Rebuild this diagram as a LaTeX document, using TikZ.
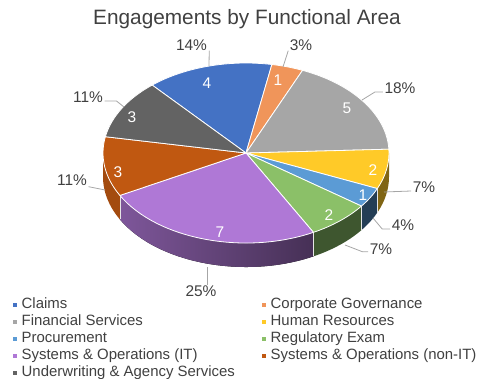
\documentclass[tikz,border=0pt]{standalone}
\usepackage{fontspec}
\setmainfont{Liberation Sans}
\begin{document}
\begin{tikzpicture}[x=0.75pt,y=0.75pt,
    leader/.style={draw=leadgray, line width=0.6pt},
    pctlabel/.style={text=labelgray, font=\fontsize{11.6}{13}\selectfont, inner sep=0pt},
    vallabel/.style={text=white, font=\fontsize{11.6}{13}\selectfont, inner sep=0pt},
    legtext/.style={text=labelgray, font=\fontsize{11.2}{13}\selectfont, anchor=west, inner sep=0pt,
        text height=8pt, text depth=2.3pt},
    legmark/.style={minimum size=2.8pt, inner sep=0pt},
    pie/.style={x radius=143, y radius=90}]
    % Define colors
    \definecolor{claimsblue}{HTML}{4472C4}
    \definecolor{govorange}{HTML}{F0955A}
    \definecolor{fingray}{HTML}{A6A6A6}
    \definecolor{hryellow}{HTML}{FFCA28}
    \definecolor{procblue}{HTML}{5B9BD5}
    \definecolor{reggreen}{HTML}{8BC068}
    \definecolor{itpurple}{HTML}{AF78D6}
    \definecolor{nonitorange}{HTML}{C05811}
    \definecolor{uwgray}{HTML}{636363}
    \definecolor{labelgray}{HTML}{404040}
    \definecolor{leadgray}{HTML}{A6A6A6}

    \useasboundingbox (0,0) rectangle (483,379);

    \begin{scope}[shift={(246,226)}]
    % Side of the pie (only the front half is seen)
    \fill[hryellow!50!black] (0:143 and 90) arc[pie, start angle=0, end angle=-23.286] -- ++(0,-24) arc[pie, start angle=-23.286, end angle=0] -- cycle;
    \fill[procblue!40!black] (-23.286:143 and 90) arc[pie, start angle=-23.286, end angle=-36.143] -- ++(0,-24) arc[pie, start angle=-36.143, end angle=-23.286] -- cycle;
    \fill[reggreen!45!black] (-36.143:143 and 90) arc[pie, start angle=-36.143, end angle=-61.857] -- ++(0,-24) arc[pie, start angle=-61.857, end angle=-36.143] -- cycle;
    \fill[left color=itpurple!72!black, right color=itpurple!40!black] (-61.857:143 and 90) arc[pie, start angle=-61.857, end angle=-151.857] -- ++(0,-24) arc[pie, start angle=-151.857, end angle=-61.857] -- cycle;
    \fill[nonitorange!85!black] (-151.857:143 and 90) arc[pie, start angle=-151.857, end angle=-180] -- ++(0,-24) arc[pie, start angle=-180, end angle=-151.857] -- cycle;
    % Edges between the side parts
    \foreach \a in {-23.286,-36.143,-61.857,-151.857}
        \draw[white!80!gray, line width=0.5pt] (\a:143 and 90) -- ++(0,-24);

    % Top of the pie
    \foreach \a/\b/\col in {131/79.571/claimsblue, 79.571/66.714/govorange,
        66.714/2.429/fingray, 2.429/-23.286/hryellow, -23.286/-36.143/procblue,
        -36.143/-61.857/reggreen, -61.857/-151.857/itpurple,
        -151.857/-190.429/nonitorange, -190.429/-229/uwgray}
        \filldraw[fill=\col, draw=white, line width=0.6pt, line join=round] (0,0) -- (\a:143 and 90)
            arc[pie, start angle=\a, end angle=\b] -- cycle;
    \end{scope}

    % Title
    \node[text=labelgray, font=\fontsize{15.6}{18}\selectfont] (title) at (247,360) {Engagements by Functional Area};

    % Values on the slices
    \node[vallabel] (v-claims) at (207,296) {4};
    \node[vallabel] (v-gov) at (278,299) {1};
    \node[vallabel] (v-fin) at (347,271) {5};
    \node[vallabel] (v-hr) at (373,209) {2};
    \node[vallabel] (v-proc) at (363,184) {1};
    \node[vallabel] (v-reg) at (329,164) {2};
    \node[vallabel] (v-it) at (220,147) {7};
    \node[vallabel] (v-nonit) at (118,207) {3};
    \node[vallabel] (v-uw) at (132,262) {3};

    % Percent labels
    \node[pctlabel] (p-claims) at (191.5,334) {14\%};
    \node[pctlabel] (p-gov) at (301,334) {3\%};
    \node[pctlabel] (p-fin) at (400,291) {18\%};
    \node[pctlabel] (p-hr) at (424,192) {7\%};
    \node[pctlabel] (p-proc) at (403,154) {4\%};
    \node[pctlabel] (p-reg) at (381,130) {7\%};
    \node[pctlabel] (p-it) at (201,88) {25\%};
    \node[pctlabel] (p-nonit) at (72,199) {11\%};
    \node[pctlabel] (p-uw) at (88,282) {11\%};

    % Leader lines
    \coordinate (e-claims) at (209,313);
    \coordinate (e-gov) at (283,312);
    \coordinate (e-fin) at (362,279);
    \coordinate (e-hr) at (384,187);
    \coordinate (e-proc) at (373,161);
    \coordinate (e-reg) at (345,134);
    \coordinate (e-it) at (207,112);
    \coordinate (e-nonit) at (105,189);
    \coordinate (e-uw) at (124,272);
    \draw[leader] ([xshift=1.5pt]p-claims.south east) -- (e-claims);
    \draw[leader] ([xshift=-1pt]p-gov.south west) -- (e-gov);
    \draw[leader] ([shift={(-1pt,-3pt)}]p-fin.west) -- ++(-6pt,0) -- (e-fin);
    \draw[leader] ([shift={(-1pt,-3pt)}]p-hr.west) -- (e-hr);
    \draw[leader] ([shift={(-1pt,-3pt)}]p-proc.west) -- ++(-6pt,0) -- (e-proc);
    \draw[leader] ([shift={(-1pt,-2pt)}]p-reg.west) -- ++(-4.5pt,0) -- (e-reg);
    \draw[leader] ([xshift=4.5pt]p-it.north) -- (e-it);
    \draw[leader] ([shift={(1pt,-5pt)}]p-nonit.east) -- (e-nonit);
    \draw[leader] ([shift={(1pt,-3pt)}]p-uw.east) -- ++(9pt,0) -- (e-uw);

    % Legend
    \foreach \i/\col/\lx/\ly/\txt in {
        1/claimsblue/15/74/Claims,
        2/govorange/264/74/Corporate Governance,
        3/fingray/15/57/Financial Services,
        4/hryellow/264/57/Human Resources,
        5/procblue/15/40/Procurement,
        6/reggreen/264/40/Regulatory Exam,
        7/itpurple/15/23/Systems \& Operations (IT),
        8/nonitorange/264/23/Systems \& Operations (non-IT),
        9/uwgray/15/6/Underwriting \& Agency Services}
    {
        \node[legmark, fill=\col] (m\i) at (\lx,\ly) {};
        \node[legtext] (t\i) at ([xshift=4.8pt]m\i.center) {\txt};
    }

\end{tikzpicture}
\end{document}
